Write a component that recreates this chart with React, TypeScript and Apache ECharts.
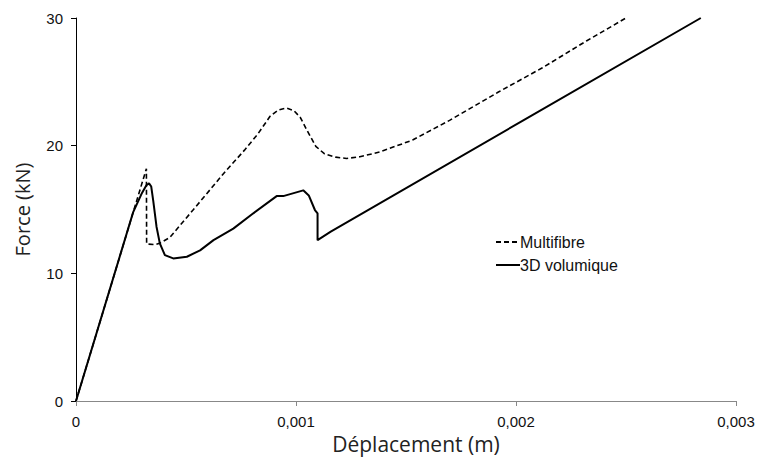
import React, { useEffect, useRef } from "react";
import * as echarts from "echarts";

const xTicks = [0, 0.001, 0.002, 0.003];
const yTicks = [0, 10, 20, 30];

const multifibre: [number, number][] = [
  [0, 0], [0.00032, 18.2], [0.000321, 12.3], [0.00036, 12.25], [0.00038, 12.35],
  [0.000426, 12.8], [0.000534, 15.0], [0.000675, 17.9], [0.000766, 19.65], [0.000826, 20.9],
  [0.000882, 22.3], [0.00092, 22.8], [0.000957, 22.95], [0.00099, 22.75], [0.00102, 22.2],
  [0.00105, 21.2], [0.00109, 19.95], [0.00113, 19.35], [0.00118, 19.1], [0.00123, 19.0],
  [0.00129, 19.13], [0.00138, 19.5], [0.00153, 20.44], [0.0017, 22.0], [0.00192, 24.2],
  [0.00212, 26.1], [0.00232, 28.2], [0.0025, 30.0],
];

const volumique: [number, number][] = [
  [0, 0], [0.00026, 14.8], [0.0003, 16.3], [0.00032, 16.9], [0.000332, 17.05],
  [0.000342, 16.8], [0.000351, 15.7], [0.000366, 13.65], [0.000381, 12.35], [0.000404, 11.43],
  [0.000442, 11.17], [0.000504, 11.3], [0.000564, 11.8], [0.000625, 12.6], [0.000715, 13.5],
  [0.000806, 14.7], [0.000912, 16.05], [0.000942, 16.05], [0.001033, 16.5], [0.001058, 16.1],
  [0.001086, 14.96], [0.001098, 14.7], [0.001098, 12.6], [0.001158, 13.26], [0.002035, 22.0],
  [0.00284, 30.0],
];

export default function App() {
  const ref = useRef<HTMLDivElement>(null);
  useEffect(() => {
    if (!ref.current) return;
    const chart = echarts.init(ref.current, null, { renderer: "svg" });
    chart.setOption({
      animation: false,
      backgroundColor: "#ffffff",
      grid: { left: 76, right: 22, top: 18, bottom: 63 },
      legend: {
        orient: "vertical",
        left: 490,
        top: 229,
        itemWidth: 24,
        itemHeight: 14,
        itemGap: 7,
        itemStyle: { opacity: 0 },
        textStyle: { fontFamily: "Liberation Sans", fontSize: 16, lineHeight: 16, color: "#111", padding: [0, 0, 0, -5] },
        data: ["Multifibre", "3D volumique"],
      },
      xAxis: {
        type: "value",
        min: 0,
        max: 0.003,
        interval: 0.001,
        name: "Déplacement (m)",
        nameLocation: "middle",
        nameGap: 26,
        nameTextStyle: { fontFamily: "Open Sans", fontSize: 21, color: "#222", padding: [0, 0, 0, 20] },
        axisLine: { lineStyle: { color: "#888", width: 1 } },
        axisTick: { show: true, length: 5, lineStyle: { color: "#888" } },
        splitLine: { show: false },
        axisLabel: {
          fontFamily: "Liberation Sans",
          fontSize: 15,
          color: "#111",
          margin: 13,
          formatter: (v: number) => (xTicks.some((t) => Math.abs(t - v) < 1e-9) ? (v === 0 ? "0" : v.toFixed(3).replace(".", ",")) : ""),
        },
      },
      yAxis: {
        type: "value",
        min: 0,
        max: 30,
        interval: 10,
        name: "Force (kN)",
        nameLocation: "middle",
        nameGap: 44,
        nameTextStyle: { fontFamily: "Open Sans", fontSize: 20, color: "#222" },
        axisLine: { show: true, lineStyle: { color: "#000", width: 1 } },
        axisTick: { show: true, length: 5, lineStyle: { color: "#000" } },
        splitLine: { show: false },
        axisLabel: {
          fontFamily: "Liberation Sans",
          fontSize: 15,
          color: "#111",
          margin: 13,
          formatter: (v: number) => (yTicks.includes(v) ? String(v) : ""),
        },
      },
      series: [
        {
          name: "Multifibre",
          type: "line",
          data: multifibre,
          showSymbol: false,
          symbol: "none",
          lineStyle: { color: "#000", width: 1.6, type: [5, 3] },
          itemStyle: { color: "#000" },
        },
        {
          name: "3D volumique",
          type: "line",
          data: volumique,
          showSymbol: false,
          symbol: "none",
          lineStyle: { color: "#000", width: 2 },
          itemStyle: { color: "#000" },
        },
      ],
    });
    return () => chart.dispose();
  }, []);
  return <div ref={ref} style={{ width: 758, height: 464, position: "absolute", left: 0, top: 0 }} />;
}
